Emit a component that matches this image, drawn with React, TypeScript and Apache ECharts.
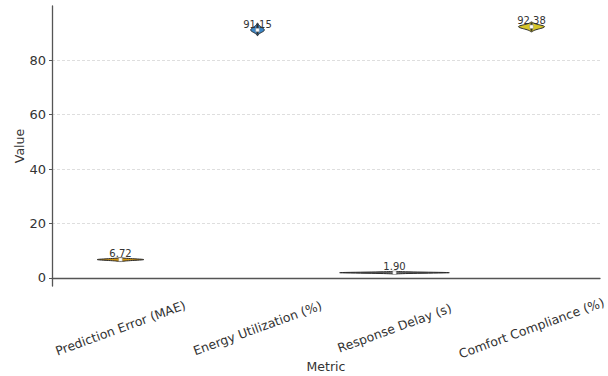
import React, { useEffect, useRef } from "react";
import * as echarts from "echarts";

const categories = [
  "Prediction Error (MAE)",
  "Energy Utilization (%)",
  "Response Delay (s)",
  "Comfort Compliance (%)",
];
const meanValues = [6.72, 91.15, 1.9, 92.38];
const lowValues = [6.0, 89.1, 1.45, 90.5];
const highValues = [7.4, 93.7, 2.35, 94.1];
// relative violin width (share of the category band)
const violinWidth = [0.34, 0.1, 0.8, 0.19];
const colors = ["#d4960f", "#3b86c6", "#6a6a6a", "#d6c62a"];
const yTicks = [0, 20, 40, 60, 80];

export default function App() {
  const ref = useRef<HTMLDivElement>(null);
  useEffect(() => {
    if (!ref.current) return;
    const chart = echarts.init(ref.current, undefined, { renderer: "svg" });
    const data = categories.map((_, i) => [
      i,
      meanValues[i],
      lowValues[i],
      highValues[i],
      violinWidth[i],
    ]);
    const renderItem = (params: any, api: any) => {
      const idx = api.value(0);
      const mid = api.value(1);
      const lo = api.value(2);
      const hi = api.value(3);
      const wFrac = api.value(4);
      const band = api.size([1, 0])[0];
      const c = api.coord([idx, mid]);
      const half = (wFrac * band) / 2;
      const N = 30;
      const right: number[][] = [];
      const left: number[][] = [];
      for (let k = 0; k <= N; k++) {
        const t = -1 + (2 * k) / N;
        const v = t < 0 ? mid + t * (mid - lo) : mid + t * (hi - mid);
        const y = api.coord([idx, v])[1];
        const hw = half * Math.exp(-3 * t * t);
        right.push([c[0] + hw, y]);
        left.unshift([c[0] - hw, y]);
      }
      const pts = right.concat(left);
      const yLo = api.coord([idx, lo])[1];
      const yHi = api.coord([idx, hi])[1];
      return {
        type: "group",
        children: [
          {
            type: "polygon",
            shape: { points: pts, smooth: 0 },
            style: { fill: colors[idx], stroke: "#2b2b2b", lineWidth: 1 },
          },
          {
            type: "line",
            shape: { x1: c[0], y1: yHi + 1, x2: c[0], y2: yLo - 1 },
            style: { stroke: "#2b2b2b", lineWidth: 2 },
          },
          {
            type: "rect",
            shape: { x: c[0] - 1.8, y: c[1] - 1.8, width: 3.6, height: 3.6 },
            style: { fill: "#ffffff", stroke: "#888", lineWidth: 0.5 },
          },
          {
            type: "text",
            style: {
              text: mid.toFixed(2),
              x: c[0],
              y: c[1] - 6,
              align: "center",
              verticalAlign: "middle",
              fill: "#333",
              font: "10px 'DejaVu Sans'",
            },
          },
        ],
      };
    };
    chart.setOption({
      animation: false,
      grid: {
        left: 52,
        right: 8,
        top: 6,
        bottom: 90,
        containLabel: false,
        outerBoundsMode: "none",
      },
      xAxis: {
        type: "category",
        data: categories,
        name: "Metric",
        nameLocation: "middle",
        nameGap: 74,
        nameMoveOverlap: false,
        nameTextStyle: {
          fontFamily: "DejaVu Sans",
          fontSize: 12.5,
          color: "#333",
          verticalAlign: "top",
        },
        axisLine: { lineStyle: { color: "#555", width: 1.3 } },
        axisTick: { alignWithLabel: true, inside: true, length: 3, lineStyle: { color: "#555" } },
        axisLabel: {
          rotate: 20,
          align: "center",
          verticalAlign: "middle",
          margin: 42,
          fontFamily: "DejaVu Sans",
          fontSize: 12.5,
          color: "#333",
          interval: 0,
        },
        splitLine: { show: false },
      },
      yAxis: {
        type: "value",
        min: -3,
        max: 100,
        name: "Value",
        nameLocation: "middle",
        nameGap: 26,
        nameMoveOverlap: false,
        nameTextStyle: { fontFamily: "DejaVu Sans", fontSize: 12.5, color: "#333" },
        axisLine: { show: true, lineStyle: { color: "#555", width: 1.3 } },
        axisTick: { show: true, length: 3, customValues: yTicks, lineStyle: { color: "#555" } },
        axisLabel: {
          customValues: yTicks,
          fontFamily: "DejaVu Sans",
          fontSize: 13,
          color: "#333",
          margin: 6,
        },
        splitLine: {
          show: true,
          lineStyle: { color: "#d6d6d6", type: [3, 2], width: 0.8 },
        },
      },
      series: [
        {
          type: "custom",
          renderItem,
          data,
          encode: { x: 0, y: 1 },
          clip: false,
        },
      ],
    });
    return () => chart.dispose();
  }, []);
  return (
    <div
      ref={ref}
      style={{ position: "absolute", left: 0, top: 0, width: 608, height: 376 }}
    />
  );
}
